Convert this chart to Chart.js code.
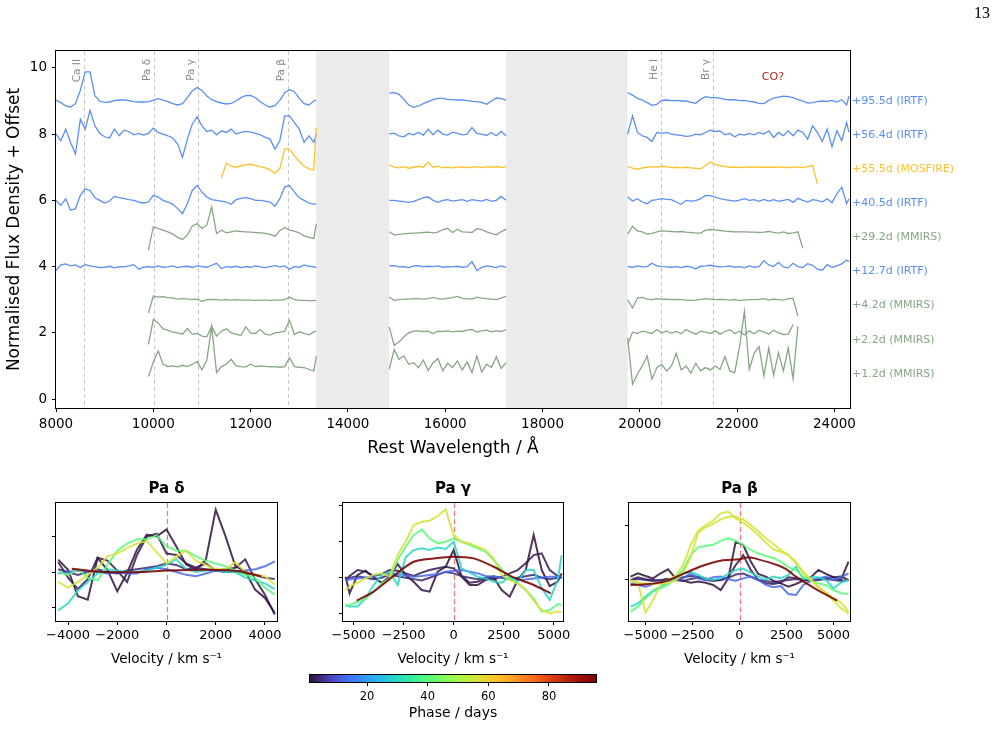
<!DOCTYPE html>
<html>
<head>
<meta charset="utf-8">
<script src="https://cdn.jsdelivr.net/npm/chart.js@4.4.1/dist/chart.umd.min.js"></script>
<style>
  html, body { margin: 0; padding: 0; background: #fff; }
  #wrap { position: relative; width: 998px; height: 729px; overflow: hidden; }
  #wrap canvas { position: absolute; left: 0; top: 0; }
  #pageNo { position: absolute; left: 974px; top: 4px; font: 16px "Liberation Serif", "DejaVu Serif", serif; color: #000; }
</style>
</head>
<body>
<div id="wrap">
  <canvas id="mainChart" width="998" height="729"></canvas>
  <canvas id="paDelta" width="998" height="729"></canvas>
  <canvas id="paGamma" width="998" height="729"></canvas>
  <canvas id="paBeta" width="998" height="729"></canvas>
  <canvas id="colourBar" width="998" height="729"></canvas>
  <div id="pageNo">13</div>
</div>
<script>
"use strict";

Chart.defaults.font.family = "'DejaVu Sans', sans-serif";
Chart.defaults.color = '#000';
Chart.defaults.animation = false;

// --- wavelength grids (Å) for the three observed windows ---
const waveA = [8000, 8100, 8200, 8300, 8400, 8500, 8600, 8700, 8800, 8900,
  9000, 9100, 9200, 9300, 9400, 9500, 9600, 9700, 9800, 9900,
  10000, 10100, 10200, 10300, 10400, 10500, 10600, 10700, 10800, 10900,
  11000, 11100, 11200, 11300, 11400, 11500, 11600, 11700, 11800, 11900,
  12000, 12100, 12200, 12300, 12400, 12500, 12600, 12700, 12800, 12900,
  13000, 13100, 13200, 13300, 13350];
const waveB = [14850, 14950, 15050, 15150, 15250, 15350, 15450, 15550, 15650, 15750,
  15850, 15950, 16050, 16150, 16250, 16350, 16450, 16550, 16650, 16750,
  16850, 16950, 17050, 17150, 17250];
const waveC = [19750, 19850, 19950, 20050, 20150, 20250, 20350, 20450, 20550, 20650,
  20750, 20850, 20950, 21050, 21150, 21250, 21350, 21450, 21550, 21650,
  21750, 21850, 21950, 22050, 22150, 22250, 22350, 22450, 22550, 22650,
  22750, 22850, 22950, 23050, 23150, 23250, 23350, 23450, 23550, 23650,
  23750, 23850, 23950, 24050, 24150, 24250, 24300];

const none = n => new Array(n).fill(null);   // no coverage

// --- normalised flux (continuum ~1), one array per spectrum: window A | B | C ---
const flux012 = [].concat(none(19),
  [0.68, 1.12, 1.45, 1.05, 0.98, 1.00, 0.97, 1.02, 0.98, 1.05, 1.13, 0.88, 1.18, 2.20, 0.80, 0.98, 1.05, 1.20, 1.00, 0.98,
   0.97, 1.05, 0.98, 1.00, 0.99, 0.97, 0.98, 0.96, 0.98, 1.25, 0.98, 0.96, 0.95, 0.90, 0.85, 1.30],
  [0.90, 1.50, 1.20, 1.30, 1.05, 1.10, 0.95, 1.18, 0.86, 1.10, 1.22, 0.85, 1.08, 0.95, 1.15, 0.88, 1.12, 0.80, 1.30, 0.82,
   1.05, 0.95, 1.28, 0.92, 1.10],
  [1.85, 0.45, 0.75, 1.00, 1.30, 0.60, 0.95, 1.05, 0.85, 1.00, 1.38, 0.88, 1.00, 0.78, 1.08, 0.85, 0.95, 0.88, 1.00, 0.90,
   1.28, 0.85, 0.80, 1.58, 2.65, 0.90, 1.38, 1.58, 0.70, 1.54, 0.72, 1.40, 0.85, 1.54, 0.62, 2.20], none(11));
const flux022 = [].concat(none(19),
  [0.65, 1.40, 1.30, 1.12, 1.08, 1.02, 1.00, 0.96, 1.13, 0.96, 0.98, 0.90, 0.88, 1.20, 0.90, 1.05, 1.12, 1.00, 0.96, 0.92,
   1.18, 1.00, 0.98, 1.10, 0.96, 0.93, 1.00, 1.02, 1.05, 1.38, 0.95, 1.03, 0.98, 0.94, 1.03, 1.05],
  [1.18, 0.62, 0.72, 0.88, 1.00, 1.05, 1.06, 1.04, 1.05, 0.98, 1.05, 1.04, 1.06, 1.03, 1.05, 1.04, 1.08, 1.10, 1.02, 1.06,
   1.08, 1.03, 1.06, 1.04, 1.10],
  [0.65, 1.02, 0.98, 1.05, 1.02, 0.98, 1.10, 1.00, 1.05, 0.99, 1.04, 0.97, 1.10, 1.02, 0.96, 1.05, 1.02, 0.98, 1.06, 0.96,
   1.04, 1.09, 0.98, 1.05, 0.94, 1.06, 0.97, 1.08, 1.02, 0.96, 1.08, 1.00, 0.95, 0.96, 1.25], none(12));
const flux042 = [].concat(none(19),
  [0.60, 1.11, 1.08, 1.09, 1.06, 1.05, 1.02, 1.04, 1.02, 1.01, 1.02, 0.95, 1.00, 1.01, 1.00, 0.99, 1.00, 0.99, 1.00, 0.99,
   0.99, 0.99, 0.98, 0.99, 0.99, 0.98, 0.99, 0.99, 1.00, 1.08, 1.00, 0.98, 0.98, 0.97, 0.97, 0.98],
  [1.08, 0.98, 1.00, 1.02, 1.02, 1.03, 1.03, 1.02, 1.03, 1.07, 1.03, 1.02, 1.04, 1.06, 1.10, 1.04, 1.03, 1.02, 1.08, 1.05,
   1.03, 1.02, 1.00, 1.05, 1.10],
  [1.00, 0.75, 1.05, 1.07, 1.02, 1.00, 1.03, 1.01, 1.02, 1.00, 1.01, 1.00, 0.99, 0.98, 0.99, 1.01, 1.03, 1.02, 1.00, 1.01,
   1.00, 0.99, 1.00, 0.98, 0.99, 1.00, 1.00, 1.01, 1.03, 0.99, 1.02, 1.00, 0.99, 1.03, 1.04, 0.50], none(11));
const flux127 = [].concat(
  [0.88, 1.05, 1.08, 1.02, 1.05, 0.97, 1.06, 1.02, 1.00, 0.97, 0.98, 1.01, 0.96, 1.00, 0.99, 1.02, 1.06, 0.92, 0.98, 1.00,
   0.98, 1.02, 0.98, 0.99, 1.02, 0.97, 1.00, 1.01, 0.98, 1.02, 1.00, 0.98, 1.04, 1.10, 0.94, 1.00, 0.98, 1.01, 0.97, 1.00,
   0.98, 1.02, 0.99, 0.97, 1.00, 1.03, 0.99, 1.02, 0.92, 1.00, 0.98, 1.05, 1.01, 0.99, 0.98],
  [1.02, 1.03, 0.99, 1.00, 0.97, 1.02, 1.03, 0.99, 1.01, 1.00, 1.02, 0.98, 1.00, 0.99, 1.01, 0.98, 1.00, 1.15, 0.88, 0.98,
   1.02, 1.00, 0.97, 1.02, 0.98],
  [1.00, 0.98, 1.02, 0.99, 1.00, 1.10, 1.02, 1.00, 0.99, 0.98, 1.00, 0.97, 1.01, 0.99, 0.93, 1.01, 1.02, 1.04, 1.01, 0.99,
   1.00, 1.02, 0.98, 1.00, 0.96, 1.02, 0.98, 1.00, 1.18, 1.05, 1.00, 1.13, 0.99, 0.96, 1.10, 1.00, 0.97, 1.09, 1.04, 0.92,
   0.89, 1.06, 0.98, 1.02, 1.08, 1.20, 1.15]);
const flux292 = [].concat(none(19),
  [0.50, 1.20, 1.15, 1.10, 1.05, 0.98, 0.88, 0.82, 0.95, 1.22, 1.30, 1.15, 1.25, 1.80, 1.00, 1.10, 1.02, 1.05, 1.08, 1.06,
   1.05, 1.04, 1.03, 1.02, 1.00, 0.97, 0.92, 1.08, 1.18, 1.10, 1.07, 1.02, 0.93, 0.88, 0.85, 1.30],
  [1.05, 0.96, 0.97, 0.99, 1.00, 1.01, 1.02, 1.03, 1.04, 1.02, 1.04, 1.12, 1.15, 1.03, 1.13, 1.05, 1.04, 1.03, 1.15, 1.12,
   1.05, 1.00, 0.96, 1.05, 1.13],
  [0.98, 1.22, 1.08, 1.05, 0.98, 1.00, 1.05, 1.08, 1.07, 1.06, 1.05, 1.06, 1.04, 1.03, 1.01, 1.01, 1.10, 1.12, 1.11, 1.09,
   1.07, 1.06, 1.05, 1.05, 1.05, 1.04, 1.04, 1.03, 1.04, 1.06, 1.03, 1.01, 1.05, 1.00, 1.02, 1.05, 0.55], none(10));
const flux405 = [].concat(
  [1.00, 0.85, 1.05, 0.70, 0.75, 1.15, 1.35, 1.30, 1.08, 1.00, 0.92, 0.98, 1.12, 1.08, 1.05, 1.02, 1.00, 0.95, 0.92, 0.95,
   1.15, 1.10, 1.00, 0.95, 0.88, 0.75, 0.60, 0.90, 1.30, 1.45, 1.25, 1.10, 1.02, 1.00, 0.98, 0.95, 0.88, 1.02, 1.06, 1.08,
   1.05, 1.00, 1.00, 0.98, 0.95, 0.82, 1.05, 1.40, 1.45, 1.25, 1.08, 1.00, 0.92, 0.88, 0.90],
  [1.00, 1.00, 0.98, 0.96, 0.94, 0.97, 1.02, 1.08, 1.10, 1.00, 0.94, 1.00, 1.02, 0.98, 1.00, 1.02, 0.97, 1.02, 1.00, 0.98,
   1.03, 0.97, 1.00, 1.12, 1.00],
  [1.10, 0.98, 1.05, 0.95, 0.90, 1.00, 1.02, 1.05, 1.03, 1.02, 0.95, 0.88, 1.00, 0.98, 0.99, 1.05, 1.15, 1.14, 1.10, 1.05,
   1.02, 1.00, 0.98, 1.01, 1.05, 1.00, 1.02, 0.97, 1.03, 0.98, 1.02, 0.97, 1.00, 1.03, 0.94, 1.06, 1.00, 0.95, 1.02, 1.00,
   0.95, 1.05, 0.93, 1.20, 1.40, 0.90, 1.05]);
const flux555 = [].concat(none(34),
  [0.68, 1.12, 1.03, 1.00, 1.04, 1.07, 1.09, 1.05, 1.02, 0.98, 0.92, 0.82, 0.96, 1.55, 1.55, 1.35, 1.18, 1.03, 0.95, 0.92, 2.20],
  [1.08, 1.00, 0.98, 1.02, 0.97, 1.00, 1.03, 1.00, 1.15, 1.00, 1.03, 0.99, 1.00, 0.98, 1.01, 1.00, 0.99, 1.00, 1.02, 0.99,
   1.01, 1.00, 1.02, 1.00, 1.01],
  [1.02, 0.97, 0.94, 0.98, 1.00, 1.02, 1.00, 1.03, 1.02, 0.99, 1.00, 0.98, 1.00, 0.98, 0.97, 0.95, 1.05, 1.16, 1.08, 1.05,
   1.02, 1.00, 1.00, 0.99, 1.01, 1.00, 1.00, 1.01, 1.00, 1.00, 1.00, 1.01, 1.00, 0.99, 1.00, 1.01, 0.99, 1.02, 1.05, 0.50], none(7));
const flux564 = [].concat(
  [1.00, 0.80, 1.15, 0.75, 0.40, 1.45, 1.15, 1.72, 1.25, 1.02, 0.92, 0.88, 1.15, 0.95, 1.12, 1.08, 0.98, 1.02, 0.97, 1.02,
   1.18, 1.05, 1.00, 0.95, 0.88, 0.70, 0.30, 0.85, 1.30, 1.52, 1.25, 1.08, 1.12, 0.98, 1.10, 1.05, 1.15, 1.00, 1.05, 1.08,
   1.06, 1.02, 0.98, 0.90, 0.85, 0.55, 0.80, 1.55, 1.55, 1.35, 1.15, 0.75, 0.95, 0.75, 1.00],
  [1.00, 1.03, 0.95, 0.92, 1.02, 0.98, 1.05, 0.97, 1.15, 0.98, 1.12, 1.00, 0.97, 1.06, 1.02, 0.98, 1.00, 1.20, 1.02, 1.00,
   0.96, 1.05, 0.95, 1.08, 0.95],
  [1.00, 1.55, 1.05, 0.95, 0.90, 0.78, 1.05, 1.02, 1.05, 1.00, 0.98, 0.96, 0.93, 0.95, 1.00, 0.98, 1.05, 1.12, 1.08, 1.10,
   0.98, 1.02, 0.92, 1.00, 0.97, 1.02, 0.98, 1.05, 1.00, 1.10, 0.90, 1.05, 0.95, 1.10, 0.95, 1.12, 1.05, 0.85, 1.25, 1.05,
   0.78, 1.15, 0.62, 1.10, 0.80, 1.35, 1.05]);
const flux955 = [].concat(
  [1.03, 0.95, 0.85, 0.82, 0.92, 1.32, 1.88, 1.88, 1.15, 1.00, 0.96, 0.97, 1.01, 1.03, 1.03, 1.01, 0.98, 0.97, 0.97, 0.98,
   1.02, 1.07, 1.03, 0.98, 0.92, 0.88, 0.92, 1.10, 1.30, 1.41, 1.32, 1.15, 1.04, 0.98, 0.94, 0.91, 0.93, 1.00, 1.10, 1.16,
   1.17, 1.10, 0.98, 0.88, 0.82, 0.86, 1.02, 1.25, 1.34, 1.28, 1.08, 0.92, 0.88, 1.00, 1.03],
  [1.24, 1.25, 1.20, 1.05, 0.88, 0.81, 0.85, 0.92, 0.98, 1.04, 1.08, 1.08, 1.05, 1.04, 1.03, 1.03, 1.01, 0.99, 0.98, 0.96,
   0.90, 1.00, 1.09, 1.07, 1.03],
  [1.25, 1.18, 1.08, 1.03, 0.95, 0.87, 0.90, 1.02, 1.03, 1.01, 1.02, 1.00, 1.00, 0.96, 0.93, 1.05, 1.13, 1.10, 1.10, 1.09,
   1.05, 1.03, 1.04, 1.01, 1.02, 0.99, 0.97, 0.93, 0.92, 1.02, 1.09, 1.12, 1.15, 1.13, 1.10, 1.04, 1.00, 0.94, 0.95, 0.98,
   1.00, 0.99, 1.02, 0.97, 1.04, 0.88, 1.15]);

const spectraFlux = [flux012, flux022, flux042, flux127, flux292, flux405, flux555, flux564, flux955];
const spectraPhase = [1.2, 2.2, 4.2, 12.7, 29.2, 40.5, 55.5, 56.4, 95.5];
const spectraInst = ['MMIRS', 'MMIRS', 'MMIRS', 'IRTF', 'MMIRS', 'IRTF', 'MOSFIRE', 'IRTF', 'IRTF'];
const spectraOffset = [0, 1, 2, 3, 4, 5, 6, 7, 8];
const spectraLabelY = [0.76, 1.78, 2.84, 3.87, 4.9, 5.92, 6.95, 7.98, 9.0];

const telluricBands = [[13350, 14850], [17250, 19750]];
const lineNames = ['Ca II', 'Pa δ', 'Pa γ', 'Pa β', 'He I', 'Br γ'];
const lineWaves = [8575, 10014, 10918, 12768, 20433, 21501];
const lineLabelTop = 10.27;
const coWave = 22735, coY = 9.73;

const xTicksMain = [8000, 10000, 12000, 14000, 16000, 18000, 20000, 22000, 24000];
const yTicksMain = [0, 2, 4, 6, 8, 10];

// --- velocity profiles (flux / continuum) ---
const velD = [-4400, -4000, -3600, -3200, -2800, -2400, -2000, -1600, -1200, -800, -400, 0,
  400, 800, 1200, 1600, 2000, 2400, 2800, 3200, 3600, 4000, 4400];
const pdFlux = {
  1.2:  [1.087, 1.016, 0.829, 0.805, 1.099, 1.016, 0.864, 0.993, 1.157, 1.263, 1.251, 1.30, 1.18, 1.052, 1.016, 1.087, 1.439, 1.251, 1.04, 1.005, 0.876, 0.817, 0.711],
  2.2:  [1.07, 0.96, 0.88, 0.95, 1.10, 1.08, 1.01, 0.93, 1.12, 1.25, 1.27, 1.13, 1.12, 1.06, 1.03, 1.06, 1.01, 1.02, 1.03, 1.09, 0.95, 0.84, 0.70],
  4.2:  [1.02, 1.00, 0.98, 1.00, 1.02, 1.00, 0.99, 1.01, 1.02, 1.03, 1.04, 1.06, 1.05, 1.02, 1.03, 1.02, 1.01, 1.00, 1.00, 0.99, 0.98, 0.96, 0.95],
  12.7: [0.99, 1.00, 1.01, 1.00, 1.00, 0.99, 1.00, 0.99, 0.99, 1.02, 1.03, 1.02, 1.00, 0.98, 0.97, 0.99, 1.01, 1.00, 1.00, 1.01, 1.02, 1.04, 1.075],
  29.2: [0.73, 0.78, 0.87, 0.93, 0.99, 1.02, 1.01, 1.00, 1.00, 1.01, 1.03, 1.05, 1.09, 1.02, 1.00, 1.01, 1.02, 1.00, 1.00, 0.96, 0.94, 0.92, 0.88],
  40.5: [1.00, 0.98, 1.02, 0.96, 0.94, 1.05, 1.15, 1.20, 1.23, 1.23, 1.26, 1.18, 1.15, 1.15, 1.11, 1.08, 1.06, 1.04, 1.01, 0.98, 0.96, 0.89, 0.84],
  56.4: [0.93, 0.89, 0.93, 0.98, 1.03, 1.11, 1.13, 1.17, 1.20, 1.22, 1.14, 1.06, 1.11, 1.15, 1.08, 1.05, 1.02, 1.02, 1.07, 1.00, 0.98, 0.97, 0.91]
};
const velDLate = [-3850, -3000, -2000, -1000, 0, 1000, 2000, 3000, 3850];
const pdLate = [1.023, 1.005, 0.998, 1.0, 1.01, 1.015, 1.015, 1.005, 0.968];

const velG = [-5400, -5200, -4800, -4400, -4000, -3600, -3200, -2800, -2400, -2000, -1600, -1200, -800, -400, 0,
  400, 800, 1200, 1600, 2000, 2400, 2800, 3200, 3600, 4000, 4400, 4800, 5200, 5400];
const pgFlux = {
  1.2:  [1.007, 0.891, 1.019, 1.049, 1.002, 0.965, 1.007, 1.095, 1.019, 0.972, 0.914, 0.903, 1.042, 1.076, 1.192, 1.007, 0.949, 0.949, 0.984, 1.002, 0.914, 0.868, 0.984, 1.053, 1.296, 1.053, 0.942, 0.972, 1.03],
  2.2:  [0.984, 1.012, 1.053, 1.042, 1.012, 1.025, 1.053, 1.049, 1.03, 1.012, 1.035, 1.053, 1.065, 1.076, 1.065, 1.012, 0.965, 0.972, 0.995, 0.988, 1.007, 1.03, 1.053, 1.10, 1.157, 1.169, 1.053, 1.012, 1.002],
  4.2:  [0.99, 1.0, 1.01, 1.0, 0.99, 1.0, 1.02, 1.01, 1.0, 0.99, 0.98, 1.0, 1.02, 1.04, 1.03, 1.01, 1.0, 0.99, 1.0, 1.01, 1.0, 0.99, 1.0, 1.01, 1.02, 1.0, 0.99, 1.0, 1.0],
  12.7: [0.984, 0.988, 0.995, 1.002, 1.012, 1.025, 1.03, 1.025, 1.016, 1.007, 1.012, 1.019, 1.025, 1.042, 1.049, 1.053, 1.042, 1.03, 1.012, 1.007, 1.002, 0.993, 0.984, 0.988, 0.995, 1.002, 1.007, 1.007, 1.007],
  29.2: [0.81, 0.80, 0.80, 0.856, 0.949, 1.018, 1.042, 0.949, 1.141, 1.192, 1.204, 1.192, 1.21, 1.2, 1.25, 1.065, 1.035, 1.007, 0.995, 0.972, 0.965, 1.007, 0.972, 1.053, 1.053, 0.926, 0.845, 0.984, 1.157],
  40.5: [0.80, 0.81, 0.833, 0.856, 0.903, 0.961, 0.995, 1.123, 1.215, 1.296, 1.336, 1.273, 1.238, 1.25, 1.273, 1.25, 1.227, 1.204, 1.18, 1.123, 1.058, 0.995, 0.961, 0.914, 0.856, 0.764, 0.775, 0.817, 0.81],
  56.4: [0.914, 0.94, 0.965, 0.995, 1.02, 1.03, 1.01, 1.157, 1.25, 1.366, 1.389, 1.396, 1.428, 1.475, 1.296, 1.25, 1.238, 1.215, 1.192, 1.134, 1.018, 0.984, 0.961, 0.919, 0.84, 0.775, 0.752, 0.764, 0.764]
};
const velGLate = [-4850, -4000, -3000, -2000, -1000, 0, 1000, 2000, 3000, 4000, 4850];
const pgLate = [0.840, 0.903, 1.012, 1.111, 1.134, 1.146, 1.134, 1.076, 1.002, 0.949, 0.891];

const velB = [-5800, -5400, -5000, -4600, -4200, -3800, -3400, -3000, -2600, -2200, -1800, -1400, -1000, -600, -200,
  200, 600, 1000, 1400, 1800, 2200, 2600, 3000, 3400, 3800, 4200, 4600, 5000, 5400, 5800];
const pbFlux = {
  1.2:  [1.031, 1.062, 1.037, 1.015, 1.062, 1.099, 1.015, 0.994, 0.975, 0.985, 0.975, 0.954, 0.907, 1.015, 1.355, 1.324, 1.17, 1.056, 1.031, 0.994, 0.969, 0.938, 0.963, 0.994, 1.025, 1.093, 1.056, 1.025, 1.0, 1.17],
  2.2:  [1.0, 1.025, 1.006, 1.0, 0.994, 1.012, 1.0, 1.025, 1.037, 1.031, 1.015, 1.0, 1.0, 1.025, 1.139, 1.231, 1.093, 1.0, 0.969, 0.963, 0.975, 1.025, 1.015, 1.0, 1.0, 1.006, 1.015, 1.025, 1.031, 1.0],
  4.2:  [1.0, 1.01, 1.0, 0.99, 1.0, 1.01, 1.0, 0.99, 1.01, 1.02, 1.0, 0.99, 1.0, 1.02, 1.05, 1.06, 1.03, 1.0, 0.99, 0.98, 0.99, 1.0, 1.01, 1.0, 0.99, 1.0, 1.01, 1.0, 0.99, 1.0],
  12.7: [0.969, 0.954, 0.938, 0.963, 0.975, 0.994, 1.006, 1.015, 1.062, 1.015, 1.0, 1.025, 1.031, 1.006, 0.994, 1.015, 1.031, 1.0, 0.954, 0.932, 0.944, 0.87, 0.861, 0.954, 0.994, 1.015, 1.031, 1.0, 1.025, 1.062],
  29.2: [0.753, 0.784, 0.846, 0.901, 0.938, 0.975, 1.006, 1.062, 1.074, 1.046, 1.012, 1.0, 1.015, 1.056, 1.093, 1.105, 1.068, 1.031, 1.006, 1.031, 1.015, 1.046, 1.123, 1.006, 1.025, 1.025, 1.0, 0.923, 0.975, 1.0],
  40.5: [0.707, 0.753, 0.83, 0.892, 0.923, 0.954, 1.025, 1.093, 1.231, 1.302, 1.315, 1.327, 1.364, 1.386, 1.364, 1.324, 1.278, 1.247, 1.222, 1.204, 1.17, 1.117, 1.093, 1.031, 0.994, 0.969, 0.951, 0.907, 0.877, 0.87],
  55.5: [1.0, 0.975, 0.70, 0.815, 0.954, 1.0, 1.037, 1.139, 1.324, 1.457, 1.509, 1.549, 1.617, 1.633, 1.571, 1.531, 1.478, 1.417, 1.346, 1.284, 1.259, 1.231, 1.154, 1.077, 1.006, 0.932, 0.883, 0.809, 0.738, 0.691],
  56.4: [0.985, 0.975, 0.969, 0.963, 0.969, 0.969, 0.994, 1.062, 1.21, 1.438, 1.488, 1.519, 1.562, 1.586, 1.586, 1.562, 1.509, 1.448, 1.386, 1.333, 1.278, 1.231, 1.17, 1.062, 1.0, 0.938, 0.883, 0.83, 0.79, 0.707]
};
const velBLate = [-5800, -5000, -4000, -3000, -2000, -1000, 0, 500, 1000, 2000, 2500, 3000, 4000, 5200];
const pbLate = [0.954, 0.96, 0.985, 1.056, 1.13, 1.179, 1.191, 1.21, 1.191, 1.139, 1.099, 1.031, 0.923, 0.809];

const PHASE_MIN = 1.2, PHASE_MAX = 95.5;
const cbarTicks = [20, 40, 60, 80];

const instColour = { IRTF: '#5a8ef5', MOSFIRE: '#fcc22b', MMIRS: '#87a784' };

// turbo colormap (polynomial approximation, ends pinned to the true end colours)
function turboPoly(t) {
  const r = 0.13572138 + t * (4.61539260 + t * (-42.66032258 + t * (132.13108234 + t * (-152.94239396 + t * 59.28637943))));
  const g = 0.09140261 + t * (2.19418839 + t * (4.84296658 + t * (-14.18503333 + t * (4.27729857 + t * 2.82956604))));
  const b = 0.10667330 + t * (12.64194608 + t * (-60.58204836 + t * (110.36276771 + t * (-89.90310912 + t * 27.34824973))));
  return [r, g, b].map(v => 255 * Math.min(1, Math.max(0, v)));
}
function turbo(t, alpha) {
  t = Math.min(1, Math.max(0, t));
  let c;
  if (t < 0.08) {
    const a = turboPoly(0.08), k = t / 0.08, s = [48, 18, 59];
    c = s.map((v, i) => v + (a[i] - v) * k);
  } else if (t > 0.92) {
    const a = turboPoly(0.92), k = (t - 0.92) / 0.08, e = [122, 4, 3];
    c = a.map((v, i) => v + (e[i] - v) * k);
  } else {
    c = turboPoly(t);
  }
  return `rgba(${Math.round(c[0])},${Math.round(c[1])},${Math.round(c[2])},${alpha === undefined ? 1 : alpha})`;
}
const phaseColour = (p, a) => turbo((p - PHASE_MIN) / (PHASE_MAX - PHASE_MIN), a);

function buildPoints(wave, flux, offset) {
  const pts = [];
  for (let i = 0; i < wave.length; i++) {
    if (i > 0 && wave[i] - wave[i - 1] > 1000) pts.push({ x: (wave[i] + wave[i - 1]) / 2, y: null });
    pts.push({ x: wave[i], y: flux[i] === null ? null : flux[i] + offset });
  }
  return pts;
}

const fmtMinus = v => (v < 0 ? '\u2212' + Math.abs(v) : String(v));
const fixTicks = list => scale => { scale.ticks = list.map(v => ({ value: v })); };

const framePlugin = {
  id: 'frame',
  afterDraw(chart, args, opts) {
    const { ctx, chartArea: a } = chart;
    ctx.save();
    ctx.strokeStyle = opts.color || '#000';
    ctx.lineWidth = 1;
    ctx.strokeRect(Math.round(a.left) - 0.5, Math.round(a.top) - 0.5,
      Math.round(a.right - a.left) + 1, Math.round(a.bottom - a.top) + 1);
    ctx.restore();
  }
};

// ---------------- main spectra panel ----------------
const wave = waveA.concat(waveB, waveC);

const mainDecor = {
  id: 'mainDecor',
  beforeDatasetsDraw(chart) {
    const { ctx, chartArea: a, scales: { x, y } } = chart;
    ctx.save();
    ctx.fillStyle = '#ebebeb';
    telluricBands.forEach(([w0, w1]) => {
      const x0 = x.getPixelForValue(w0), x1 = x.getPixelForValue(w1);
      ctx.fillRect(x0, a.top, x1 - x0, a.bottom - a.top);
    });
    ctx.strokeStyle = '#c8c8c8';
    ctx.lineWidth = 1;
    ctx.setLineDash([4, 3]);
    lineWaves.forEach(w => {
      const px = Math.round(x.getPixelForValue(w)) + 0.5;
      ctx.beginPath(); ctx.moveTo(px, a.top); ctx.lineTo(px, a.bottom); ctx.stroke();
    });
    ctx.restore();
  },
  afterDatasetsDraw(chart) {
    const { ctx, chartArea: a, scales: { x, y } } = chart;
    ctx.save();
    ctx.font = "10.5px 'DejaVu Sans'";
    ctx.fillStyle = '#8a8a8a';
    lineWaves.forEach((w, i) => {
      ctx.save();
      ctx.translate(x.getPixelForValue(w) - 1, y.getPixelForValue(lineLabelTop));
      ctx.rotate(-Math.PI / 2);
      ctx.textAlign = 'right';
      ctx.textBaseline = 'bottom';
      ctx.fillText(lineNames[i], 0, 0);
      ctx.restore();
    });
    ctx.font = "11px 'DejaVu Sans'";
    ctx.fillStyle = '#b22222';
    ctx.textAlign = 'center';
    ctx.textBaseline = 'middle';
    ctx.fillText('CO?', x.getPixelForValue(coWave), y.getPixelForValue(coY));
    ctx.textAlign = 'left';
    spectraPhase.forEach((p, i) => {
      ctx.fillStyle = instColour[spectraInst[i]];
      ctx.fillText(`+${p}d (${spectraInst[i]})`, a.right + 2, y.getPixelForValue(spectraLabelY[i]));
    });
    ctx.restore();
  }
};

new Chart(document.getElementById('mainChart'), {
  type: 'line',
  data: {
    datasets: spectraFlux.map((f, i) => ({
      data: buildPoints(wave, f, spectraOffset[i]),
      borderColor: instColour[spectraInst[i]],
      borderWidth: 1.3,
      pointRadius: 0,
      spanGaps: false,
      tension: 0
    }))
  },
  options: {
    responsive: false,
    events: [],
    layout: { padding: { left: 0, right: 148, top: 51, bottom: 266 } },
    plugins: { legend: { display: false }, tooltip: { enabled: false }, frame: { color: '#000' } },
    scales: {
      x: {
        type: 'linear', min: 8000, max: 24320,
        afterBuildTicks: fixTicks(xTicksMain),
        afterFit: s => { s.height = 55; },
        ticks: { callback: v => String(v), font: { size: 13.5 }, color: '#000', padding: 4, autoSkip: false, maxRotation: 0 },
        grid: { drawOnChartArea: false, tickLength: 4, color: '#000', tickColor: '#000' },
        border: { display: false },
        title: { display: true, text: 'Rest Wavelength / Å', font: { size: 17 }, color: '#000' }
      },
      y: {
        type: 'linear', min: -0.27, max: 10.51,
        afterBuildTicks: fixTicks(yTicksMain),
        afterFit: s => { s.width = 56; },
        ticks: { callback: v => String(v), font: { size: 13.5 }, color: '#000', padding: 5 },
        grid: { drawOnChartArea: false, tickLength: 4, color: '#000', tickColor: '#000' },
        border: { display: false },
        title: { display: true, text: 'Normalised Flux Density + Offset', font: { size: 17 }, color: '#000' }
      }
    }
  },
  plugins: [mainDecor, framePlugin]
});

// ---------------- velocity panels ----------------
const zeroLine = {
  id: 'zeroLine',
  beforeDatasetsDraw(chart) {
    const { ctx, chartArea: a, scales: { x } } = chart;
    const px = Math.round(x.getPixelForValue(0)) + 0.5;
    ctx.save();
    ctx.strokeStyle = 'rgba(240,90,90,0.85)';
    ctx.lineWidth = 1.2;
    ctx.setLineDash([5, 3]);
    ctx.beginPath(); ctx.moveTo(px, a.top); ctx.lineTo(px, a.bottom); ctx.stroke();
    ctx.restore();
  }
};

function makePanel(id, title, box, vel, fluxByPhase, velLate, fluxLate, xr, xt, yr, yt) {
  const phases = Object.keys(fluxByPhase).map(Number).sort((a, b) => a - b);
  const sets = phases.map((p, i) => ({
    data: vel.map((v, j) => ({ x: v, y: fluxByPhase[p][j] })),
    borderColor: phaseColour(p, 0.85),
    borderWidth: 2,
    pointRadius: 0,
    tension: 0,
    order: 20 - i
  }));
  sets.push({
    data: velLate.map((v, j) => ({ x: v, y: fluxLate[j] })),
    borderColor: phaseColour(95.5, 0.9),
    borderWidth: 2,
    pointRadius: 0,
    tension: 0.3,
    order: 0
  });
  new Chart(document.getElementById(id), {
    type: 'line',
    data: { datasets: sets },
    options: {
      responsive: false,
      events: [],
      layout: { padding: { left: box.left - 6, right: 998 - box.right, top: 480, bottom: 57 } },
      plugins: {
        legend: { display: false }, tooltip: { enabled: false }, frame: { color: '#000' },
        title: { display: true, text: title, fullSize: false, font: { size: 15, weight: 'bold' }, color: '#000', padding: { top: 0, bottom: 5 } }
      },
      scales: {
        x: {
          type: 'linear', min: xr[0], max: xr[1],
          afterBuildTicks: fixTicks(xt),
          afterFit: s => { s.height = 51; },
          ticks: { callback: fmtMinus, font: { size: 13 }, color: '#000', padding: 3, autoSkip: false, maxRotation: 0 },
          grid: { drawOnChartArea: false, tickLength: 4, color: '#000', tickColor: '#000' },
          border: { display: false },
          title: { display: true, text: 'Velocity / km s\u207B\u00B9', font: { size: 13.5 }, color: '#000' }
        },
        y: {
          type: 'linear', min: yr[0], max: yr[1],
          afterBuildTicks: fixTicks(yt),
          afterFit: s => { s.width = 6; },
          ticks: { callback: () => '', padding: 0 },
          grid: { drawOnChartArea: false, tickLength: 4, color: '#000', tickColor: '#000' },
          border: { display: false }
        }
      }
    },
    plugins: [zeroLine, framePlugin]
  });
}

makePanel('paDelta', 'Pa δ', { left: 56, right: 277 }, velD, pdFlux, velDLate, pdLate,
  [-4490, 4490], [-4000, -2000, 0, 2000, 4000], [0.655, 1.486], [0.75, 1.0, 1.25]);
makePanel('paGamma', 'Pa γ', { left: 343, right: 563 }, velG, pgFlux, velGLate, pgLate,
  [-5530, 5465], [-5000, -2500, 0, 2500, 5000], [0.699, 1.519], [0.75, 1.0, 1.25, 1.5]);
makePanel('paBeta', 'Pa β', { left: 629, right: 850 }, velB, pbFlux, velBLate, pbLate,
  [-5880, 5880], [-5000, -2500, 0, 2500, 5000], [0.62, 1.713], [1.0, 1.5]);

// ---------------- colour bar ----------------
const cbarFill = {
  id: 'cbarFill',
  beforeDatasetsDraw(chart) {
    const { ctx, chartArea: a } = chart;
    const grad = ctx.createLinearGradient(a.left, 0, a.right, 0);
    for (let k = 0; k <= 40; k++) grad.addColorStop(k / 40, turbo(k / 40));
    ctx.save();
    ctx.fillStyle = grad;
    ctx.fillRect(a.left, a.top, a.right - a.left, a.bottom - a.top);
    ctx.restore();
  }
};

new Chart(document.getElementById('colourBar'), {
  type: 'line',
  data: { datasets: [{ data: [] }] },
  options: {
    responsive: false,
    events: [],
    layout: { padding: { left: 310, right: 402, top: 675, bottom: 3 } },
    plugins: { legend: { display: false }, tooltip: { enabled: false }, frame: { color: '#000' } },
    scales: {
      x: {
        type: 'linear', min: PHASE_MIN, max: PHASE_MAX,
        afterBuildTicks: fixTicks(cbarTicks),
        afterFit: s => { s.height = 44; },
        ticks: { callback: v => String(v), font: { size: 11.5 }, color: '#000', padding: 4, autoSkip: false, maxRotation: 0 },
        grid: { drawOnChartArea: false, tickLength: 4, color: '#000', tickColor: '#000' },
        border: { display: false },
        title: { display: true, text: 'Phase / days', font: { size: 14 }, color: '#000' }
      },
      y: { display: false, min: 0, max: 1 }
    }
  },
  plugins: [cbarFill, framePlugin]
});
</script>
</body>
</html>
